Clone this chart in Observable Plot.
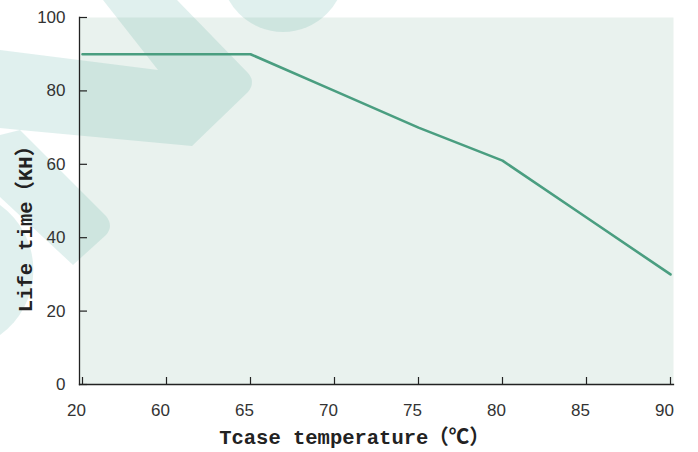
<!DOCTYPE html>
<html>
<head>
<meta charset="utf-8">
<script src="https://cdn.jsdelivr.net/npm/d3@7"></script>
<script src="https://cdn.jsdelivr.net/npm/@observablehq/plot@0.6"></script>
<style>
  html, body { margin: 0; padding: 0; background: #ffffff; }
  #wrap { position: relative; width: 698px; height: 452px; overflow: hidden; }
  #mark { position: absolute; left: 0; top: 0; }
  #chart { position: absolute; left: 0; top: 0; }
</style>
</head>
<body>
<div id="wrap">
  <svg id="mark" width="698" height="452"></svg>
  <div id="chart"></div>
</div>
<script>
// ---- data ----
const temps = ["20", "60", "65", "70", "75", "80", "85", "90"];
const lifeKH = [90, 90, 90, 80, 70, 61, 45.5, 30];
const yTicks = [0, 20, 40, 60, 80, 100];
const xTitle = "Tcase temperature（℃）";
const yTitle = "Life time（KH）";

const data = temps.map((t, i) => ({temp: t, life: lifeKH[i]}));

// ---- decorative background watermark (not data) ----
const watermark = [
  "M103,0 L177,0 L248,73 Q256,82 248,92 L192,146 L20,130 L0,128 L0,50 L158,70 Z",
  "M0,135 L20,130 L106,216 Q114,226 106,235 L73,265 L0,197 Z",
  "M0,205 A80,80 0 0 1 0,335 Z"
];
const wm = d3.select("#mark");
wm.selectAll("path").data(watermark).join("path")
  .attr("d", d => d).attr("fill", "#3ca096").attr("fill-opacity", 0.16);
wm.append("circle").attr("cx", 283).attr("cy", -30).attr("r", 62)
  .attr("fill", "#3ca096").attr("fill-opacity", 0.16);

const tickFont = "'Liberation Sans', Arimo, Arial, sans-serif";
const titleFont = "'Liberation Mono', 'Noto Sans CJK SC', monospace";

const chart = Plot.plot({
  width: 698,
  height: 452,
  marginLeft: 79,
  marginRight: 25,
  marginTop: 17,
  marginBottom: 68,
  style: {background: "transparent", color: "#222", fontFamily: tickFont, fontSize: "17px"},
  x: {type: "point", domain: temps, padding: 0},
  y: {domain: [0, 100]},
  marks: [
    Plot.frame({fill: "#6ca88e", fillOpacity: 0.15}),
    Plot.axisY({ticks: yTicks, tickSize: -8, tickPadding: 22, tickFormat: d => d, fontSize: 17, label: null, strokeWidth: 1.2, fill: "#333"}),
    Plot.axisX({tickSize: -7, tickFormat: () => "", label: null, strokeWidth: 1.2}),
    Plot.axisX({tickSize: 0, tickPadding: 19, dx: -6, fontSize: 17, label: null, fill: "#333"}),
    Plot.frame({anchor: "left", stroke: "#222", strokeWidth: 1.3}),
    Plot.frame({anchor: "bottom", stroke: "#222", strokeWidth: 1.3}),
    Plot.line(data, {x: "temp", y: "life", stroke: "#4a9e80", strokeWidth: 2.6}),
    Plot.text([xTitle], {frameAnchor: "bottom", textAnchor: "middle", dx: -22, dy: 53, lineAnchor: "middle",
      fontFamily: titleFont, fontWeight: "bold", fontSize: 20.5, fill: "#222"}),
    Plot.text([yTitle], {frameAnchor: "left", textAnchor: "middle", dx: -54, dy: 23, rotate: -90, lineAnchor: "middle",
      fontFamily: titleFont, fontWeight: "bold", fontSize: 20.5, fill: "#222"})
  ]
});
document.getElementById("chart").appendChild(chart);
</script>
</body>
</html>
